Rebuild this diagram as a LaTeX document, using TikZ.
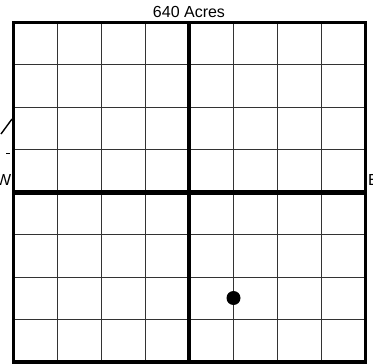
\documentclass[tikz,border=0pt]{standalone}
\usepackage{fontspec}
\setmainfont{Liberation Sans}

\begin{document}
\begin{tikzpicture}[
    x=1pt, y=-1pt,
    gridline/.style={draw=black!80, line width=1pt},
    halfline/.style={draw=black, line width=4.5pt},
    frame/.style={draw=black, line width=3.5pt},
    lbl/.style={font=\fontsize{16}{19}\selectfont, inner sep=0pt}
  ]
  \useasboundingbox (0,0) rectangle (373,364);
  % quarter-quarter grid
  \foreach \i in {1,...,7} {
    \draw[gridline] ({13.5+\i*44},22.5) -- ({13.5+\i*44},362);
    \draw[gridline] (13.5,{22.5+\i*42.44}) -- (365.5,{22.5+\i*42.44});
  }
  % quarter lines and section outline
  \draw[halfline] (189,22.5) -- (189,362);
  \draw[halfline] (13.5,192.3) -- (365.5,192.3);
  \draw[frame] (13.5,22.5) rectangle (365.5,362);
  \fill (233.5,298) circle (7);
  \node[lbl] (acres) at (189,12) {640 Acres};
  \node[lbl, anchor=east] (west) at (11.5,180) {W};
  \node[lbl, anchor=west] (east) at (368,180) {E};
  \draw[line width=1.4pt] (1,134) -- (12,119);
  \draw[line width=0.8pt] (6,153) -- (10,153);
\end{tikzpicture}
\end{document}
